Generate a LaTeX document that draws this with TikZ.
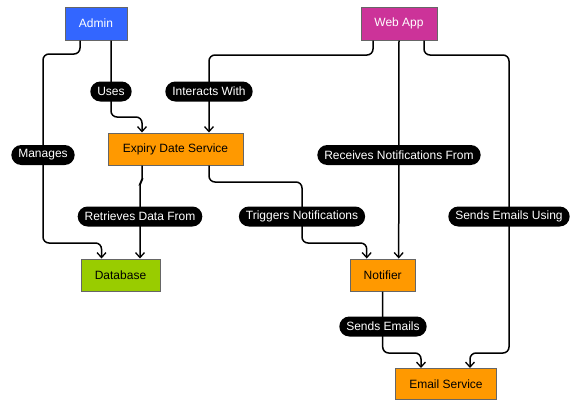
\documentclass[tikz,border=0pt]{standalone}
\usepackage{fontspec}
\setmainfont{Liberation Sans}
\usetikzlibrary{arrows.meta}
\definecolor{cblue}{RGB}{51,102,255}
\definecolor{cmag}{RGB}{204,51,153}
\definecolor{corange}{RGB}{255,153,0}
\definecolor{cgreen}{RGB}{153,204,0}
\definecolor{cborder}{RGB}{102,102,102}
\tikzset{
  box/.style={draw=cborder, line width=1pt, inner sep=0pt, font=\fontsize{12}{14}\selectfont},
  conn/.style={draw=black, line width=1.5pt, rounded corners=6pt, -{Straight Barb[length=5pt,width=9pt,line width=1.3pt]}},
  lbl/.style={fill=black, text=white, rounded corners=10pt, minimum height=20pt, inner xsep=7pt, inner ysep=0pt, font=\fontsize{12}{14}\selectfont}
}
\begin{document}
\begin{tikzpicture}[x=1pt,y=-1pt]
\useasboundingbox (0,0) rectangle (574,400);
\node[box, fill=cblue, text=white, minimum width=62pt, minimum height=33pt] (admin) at (96,23.5) {Admin};
\node[box, fill=cmag, text=white, minimum width=76pt, minimum height=33pt] (web) at (399,23.5) {Web App};
\node[box, fill=corange, minimum width=135pt, minimum height=32pt] (exp) at (175.5,149) {Expiry Date Service};
\node[box, fill=cgreen, minimum width=79pt, minimum height=32pt] (db) at (120.5,275) {Database};
\node[box, fill=corange, minimum width=65pt, minimum height=32pt] (notif) at (382.7,275) {Notifier};
\node[box, fill=corange, minimum width=101pt, minimum height=31pt] (email) at (446,384) {Email Service};

\draw[conn] ([xshift=-16pt]admin.south) -- (80,54) -- (43,54) -- (43,243) -- (101.5,243) -- ([xshift=-19pt]db.north);
\draw[conn] ([xshift=15pt]admin.south) -- (111,117) -- (142,117) -- ([xshift=-33.5pt]exp.north);
\draw[conn] ([xshift=-26pt]web.south) -- (373,55) -- (209,55) -- ([xshift=33.5pt]exp.north);
\draw[conn] (web.south) -- ([xshift=16pt]notif.north);
\draw[conn] ([xshift=25pt]web.south) -- (424,55) -- (509,55) -- (509,353) -- (470,353) -- ([xshift=24pt]email.north);
\draw[conn, rounded corners=2pt] ([xshift=-33.5pt]exp.south) -- (142,181) -- (140,183) -- ([xshift=19.5pt]db.north);
\draw[conn] ([xshift=33.5pt]exp.south) -- (209,182) -- (302,182) -- (302,243) -- (366.7,243) -- ([xshift=-16pt]notif.north);
\draw[conn] (notif.south) -- (382.7,353) -- (421,353) -- ([xshift=-25pt]email.north);

\node[lbl] (l1) at (43,155) {Manages};
\node[lbl] (l2) at (111,91.5) {Uses};
\node[lbl] (l3) at (209,91.5) {Interacts With};
\node[lbl] (l4) at (399,155) {Receives Notifications From};
\node[lbl] (l5) at (140,216.5) {Retrieves Data From};
\node[lbl] (l6) at (302,216.5) {Triggers Notifications};
\node[lbl] (l7) at (509,216.5) {Sends Emails Using};
\node[lbl] (l8) at (383,326.5) {Sends Emails};
\end{tikzpicture}
\end{document}
